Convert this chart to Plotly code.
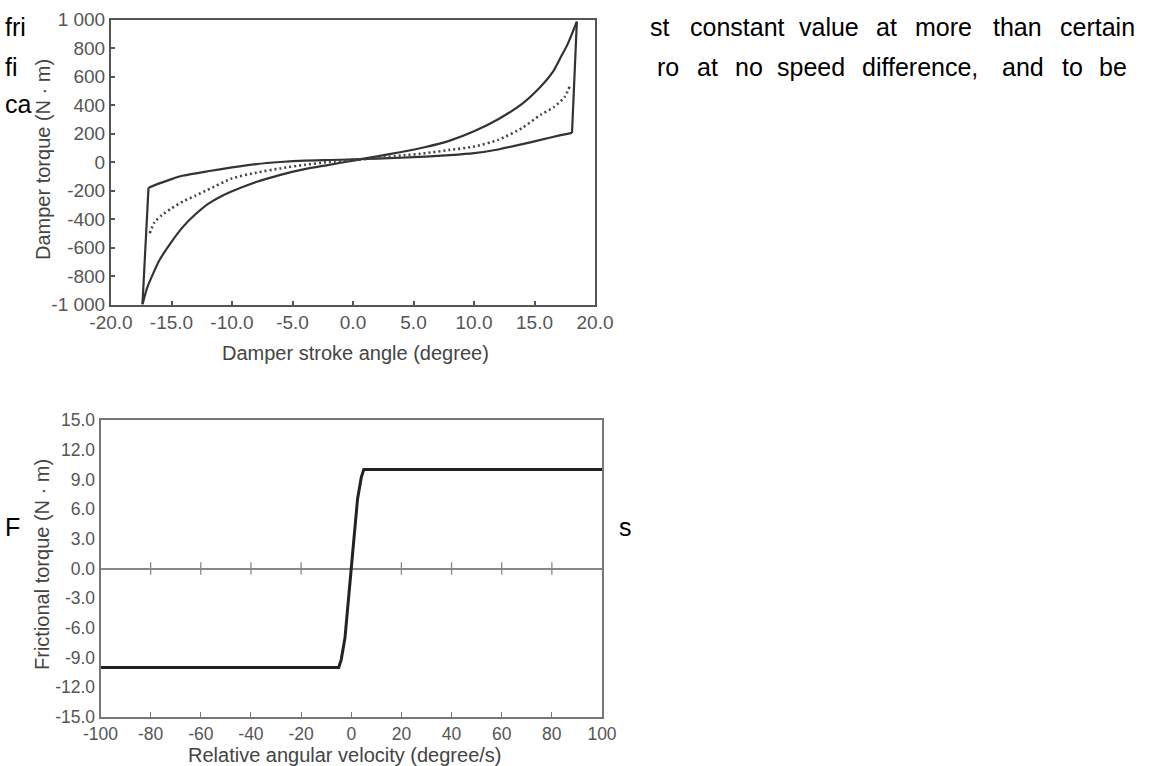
import plotly.graph_objects as go

W, H = 1149, 766

# ---------------- data: damper characteristic ----------------
# curve rising from lower-left corner to upper-right corner
angle_a = [-17.4, -17.0, -16.5, -16.0, -15.0, -14.0, -13.0, -12.0, -11.0, -10.0, -8.0, -6.0, -4.0, -2.0,
           0.0, 2.0, 4.0, 6.0, 8.0, 10.0, 12.0, 14.0, 15.5, 16.5, 17.2, 17.7, 18.1, 18.5]
torque_a = [-1000, -880, -780, -690, -560, -450, -365, -295, -245, -205, -140, -90, -50, -20,
            10, 40, 70, 105, 150, 215, 300, 410, 528, 630, 740, 820, 900, 985]
# second curve from left knee to right knee
angle_b = [-16.9, -16.0, -15.0, -14.0, -12.0, -10.0, -8.0, -6.0, -4.0, -2.0, 0.0, 2.0, 4.0, 6.0,
           8.0, 10.0, 12.0, 14.0, 15.5, 17.0, 18.1]
torque_b = [-180, -150, -120, -95, -65, -38, -15, 0, 10, 14, 18, 24, 30, 38,
            48, 62, 88, 125, 155, 185, 204]
# dotted middle curve
angle_m = [-16.8, -16.4, -15.8, -15.0, -14.0, -13.0, -12.0, -10.0, -8.0, -6.0, -4.0, -2.0, 0.0, 2.0,
           4.0, 6.0, 8.0, 10.0, 12.0, 14.0, 15.5, 16.6, 17.5, 17.9]
torque_m = [-500, -422, -373, -325, -275, -235, -195, -115, -75, -45, -20, 0, 12, 28,
            45, 62, 85, 108, 155, 240, 331, 385, 458, 528]

top_x_ticks = [-20, -15, -10, -5, 0, 5, 10, 15, 20]
top_x_text = ["-20.0", "-15.0", "-10.0", "-5.0", "0.0", "5.0", "10.0", "15.0", "20.0"]
top_y_ticks = [-1000, -800, -600, -400, -200, 0, 200, 400, 600, 800, 1000]
top_y_text = ["-1 000", "-800", "-600", "-400", "-200", "0", "200", "400", "600", "800", "1 000"]

# ---------------- data: friction characteristic ----------------
velocity = [-100, -5, -4, -2.5, 0, 2.5, 4, 5, 100]
friction = [-10, -10, -9.2, -7, 0, 7, 9.2, 10, 10]

bot_x_ticks = [-100, -80, -60, -40, -20, 0, 20, 40, 60, 80, 100]
bot_x_text = ["-100", "-80", "-60", "-40", "-20", "0", "20", "40", "60", "80", "100"]
bot_y_ticks = [-15, -12, -9, -6, -3, 0, 3, 6, 9, 12, 15]
bot_y_text = ["-15.0", "-12.0", "-9.0", "-6.0", "-3.0", "0.0", "3.0", "6.0", "9.0", "12.0", "15.0"]

# ---------------- surrounding document text ----------------
line1_words = ["st", "constant", "value", "at", "more", "than", "certain"]
line1_left = [648, 688, 797, 874, 913, 991, 1058]
line2_words = ["ro", "at", "no", "speed", "difference,", "and", "to", "be"]
line2_left = [655, 695, 733, 775, 860, 1000, 1060, 1097]


def px(x):
    return x / W


def py(y):
    return 1 - y / H


fig = go.Figure()

line_col = "#333333"
fig.add_trace(go.Scatter(x=angle_a, y=torque_a, mode="lines", xaxis="x", yaxis="y",
                         line=dict(color=line_col, width=2.2, shape="spline", smoothing=0.6)))
fig.add_trace(go.Scatter(x=angle_b, y=torque_b, mode="lines", xaxis="x", yaxis="y",
                         line=dict(color=line_col, width=2.2, shape="spline", smoothing=0.6)))
# vertical connectors between the two curves' ends
fig.add_trace(go.Scatter(x=[angle_b[0], angle_a[0]], y=[torque_b[0], torque_a[0]], mode="lines",
                         xaxis="x", yaxis="y", line=dict(color=line_col, width=2.2)))
fig.add_trace(go.Scatter(x=[angle_b[-1], angle_a[-1]], y=[torque_b[-1], torque_a[-1]], mode="lines",
                         xaxis="x", yaxis="y", line=dict(color=line_col, width=2.2)))
fig.add_trace(go.Scatter(x=angle_m, y=torque_m, mode="lines", xaxis="x", yaxis="y",
                         line=dict(color="#444444", width=2.6, dash="2px,3px", shape="spline",
                                   smoothing=0.6)))

# friction curve
fig.add_trace(go.Scatter(x=velocity, y=friction, mode="lines", xaxis="x2", yaxis="y2",
                         line=dict(color="#222222", width=3)))
# tick marks crossing the zero line
zero_ticks = [v for v in bot_x_ticks if v not in (-100, 0, 100)]
fig.add_trace(go.Scatter(x=zero_ticks, y=[0] * len(zero_ticks), mode="markers", xaxis="x2", yaxis="y2",
                         marker=dict(symbol="line-ns-open", size=9, color="#888888",
                                     line=dict(color="#888888", width=1.3))))

tick_font = dict(family="Liberation Sans, Arial, sans-serif", size=19, color="#555555")
tick_font_b = dict(family="Liberation Sans, Arial, sans-serif", size=17.5, color="#555555")
title_font = dict(family="Liberation Sans, Arial, sans-serif", size=20, color="#444444")
body_font = dict(family="Liberation Sans, Arial, sans-serif", size=25, color="#000000")

fig.update_layout(
    width=W, height=H,
    margin=dict(l=0, r=0, t=0, b=0),
    paper_bgcolor="white", plot_bgcolor="white",
    showlegend=False, hovermode=False,
    xaxis=dict(domain=[px(111), px(595)], range=[-20, 20], anchor="y",
               tickvals=top_x_ticks, ticktext=top_x_text, tickfont=tick_font,
               ticks="inside", ticklen=4, tickcolor="#555555", tickwidth=1.5,
               showline=True, mirror=True, linecolor="#555555", linewidth=2,
               showgrid=False, zeroline=False, automargin=False),
    yaxis=dict(domain=[py(304.5), py(19.5)], range=[-1000, 1000], anchor="x",
               tickvals=top_y_ticks, ticktext=top_y_text, tickfont=tick_font,
               ticks="inside", ticklen=4, tickcolor="#555555", tickwidth=1.5,
               showline=True, mirror=True, linecolor="#555555", linewidth=2,
               showgrid=False, zeroline=False, automargin=False),
    xaxis2=dict(domain=[px(100.5), px(602)], range=[-100, 100], anchor="y2",
                tickvals=bot_x_ticks, ticktext=bot_x_text, tickfont=tick_font_b,
                ticks="inside", ticklen=5, tickcolor="#777777", tickwidth=1.3,
                showline=True, mirror=True, linecolor="#777777", linewidth=1.8,
                showgrid=False, zeroline=False, automargin=False),
    yaxis2=dict(domain=[py(717), py(420)], range=[-15, 15], anchor="x2",
                tickvals=bot_y_ticks, ticktext=bot_y_text, tickfont=tick_font_b,
                ticks="", showline=True, mirror=True, linecolor="#777777", linewidth=1.8,
                showgrid=False, zeroline=True, zerolinecolor="#888888", zerolinewidth=1.6,
                automargin=False),
)

# axis titles
fig.add_annotation(x=px(356), y=py(353), xref="paper", yref="paper", showarrow=False,
                   text="Damper stroke angle (degree)", font=title_font,
                   xanchor="center", yanchor="middle")
fig.add_annotation(x=px(43), y=py(160), xref="paper", yref="paper", showarrow=False,
                   text="Damper torque (N · m)", font=title_font, textangle=-90,
                   xanchor="center", yanchor="middle")
fig.add_annotation(x=px(345), y=py(755), xref="paper", yref="paper", showarrow=False,
                   text="Relative angular velocity (degree/s)", font=title_font,
                   xanchor="center", yanchor="middle")
fig.add_annotation(x=px(42), y=py(565), xref="paper", yref="paper", showarrow=False,
                   text="Frictional torque (N · m)", font=title_font, textangle=-90,
                   xanchor="center", yanchor="middle")

# document text around the figures
for w, xl in zip(line1_words, line1_left):
    fig.add_annotation(x=px(xl), y=py(27), xref="paper", yref="paper", showarrow=False,
                       text=w, font=body_font, xanchor="left", yanchor="middle")
for w, xl in zip(line2_words, line2_left):
    fig.add_annotation(x=px(xl), y=py(67), xref="paper", yref="paper", showarrow=False,
                       text=w, font=body_font, xanchor="left", yanchor="middle")
for w, yc in [("fri", 27), ("fi", 67), ("ca", 104), ("F", 527)]:
    fig.add_annotation(x=px(3), y=py(yc), xref="paper", yref="paper", showarrow=False,
                       text=w, font=body_font, xanchor="left", yanchor="middle")
fig.add_annotation(x=px(617), y=py(527), xref="paper", yref="paper", showarrow=False,
                   text="s", font=body_font, xanchor="left", yanchor="middle")

fig.write_html("out.html")
